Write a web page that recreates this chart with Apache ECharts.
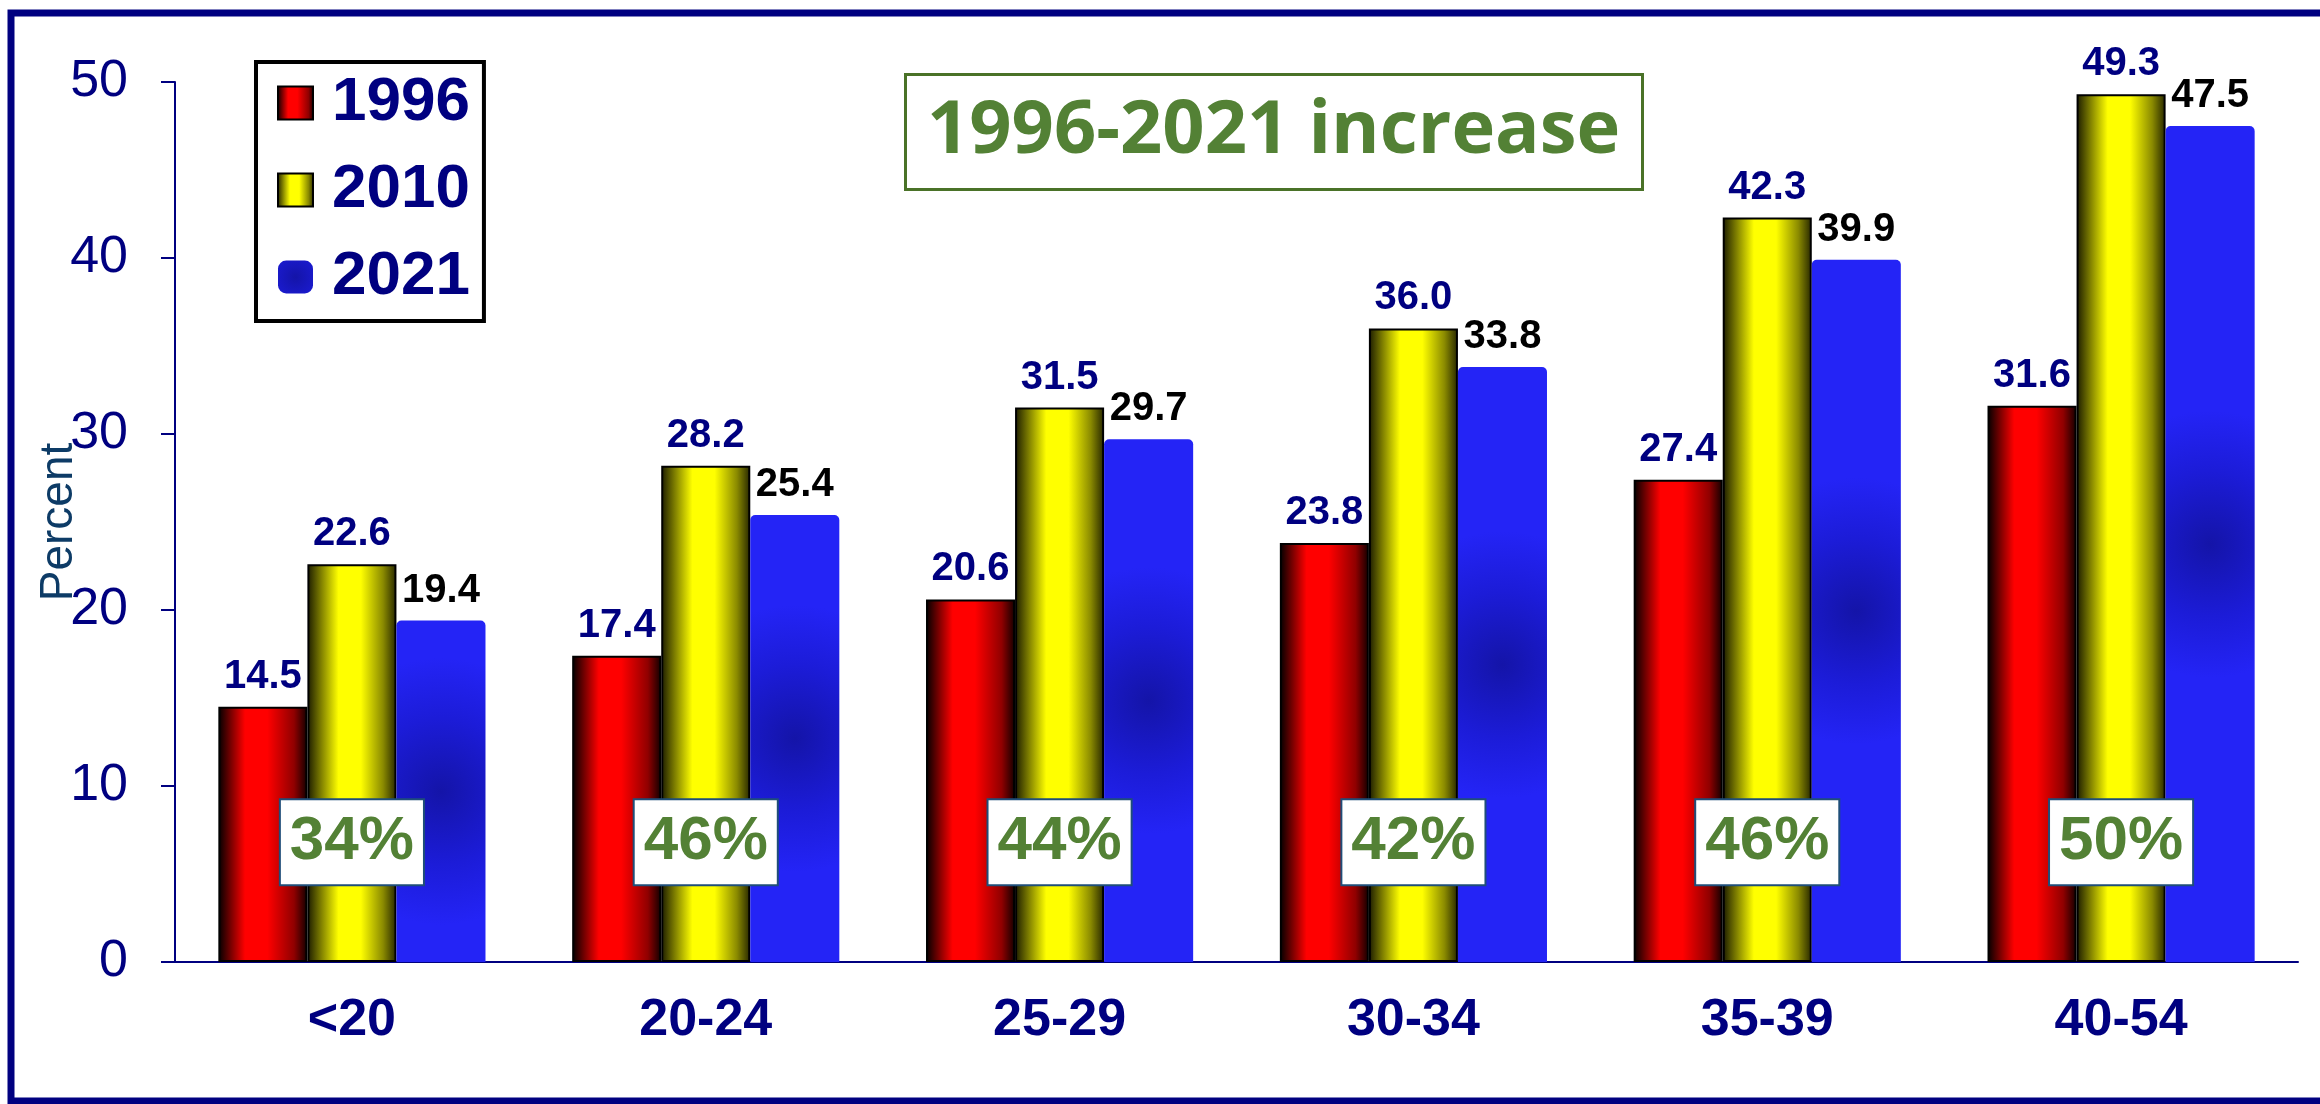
<!DOCTYPE html>
<html>
<head>
<meta charset="utf-8">
<script src="https://cdn.jsdelivr.net/npm/echarts@6/dist/echarts.min.js"></script>
<style>
  html, body { margin: 0; padding: 0; background: #fff; }
  #main { width: 2320px; height: 1104px; }
</style>
</head>
<body>
<div id="main"></div>
<script>
var categories = ['<20', '20-24', '25-29', '30-34', '35-39', '40-54'];
var values1996 = [14.5, 17.4, 20.6, 23.8, 27.4, 31.6];
var values2010 = [22.6, 28.2, 31.5, 36.0, 42.3, 49.3];
var values2021 = [19.4, 25.4, 29.7, 33.8, 39.9, 47.5];
var increaseLabels = ['34%', '46%', '44%', '42%', '46%', '50%'];
var yMin = 0, yMax = 50, yStep = 10;

var NAVY = '#000080';
var FONT = 'Liberation Sans, Arial, sans-serif';
var BOX_Y = 6.8; // height (in axis units) where the increase boxes sit

var chartDom = document.getElementById('main');
var myChart = echarts.init(chartDom);

var redFill = new echarts.graphic.LinearGradient(0, 0, 1, 0, [
  { offset: 0, color: '#000000' },
  { offset: 0.3, color: '#ff0000' },
  { offset: 0.55, color: '#ff0000' },
  { offset: 0.85, color: '#900000' },
  { offset: 1, color: '#100000' }
]);
var yellowFill = new echarts.graphic.LinearGradient(0, 0, 1, 0, [
  { offset: 0, color: '#1a1a00' },
  { offset: 0.35, color: '#ffff00' },
  { offset: 0.6, color: '#ffff00' },
  { offset: 0.85, color: '#8a8a00' },
  { offset: 1, color: '#262600' }
]);
var blueFill = new echarts.graphic.RadialGradient(0.5, 0.5, 1.5, [
  { offset: 0, color: '#1414a8' },
  { offset: 0.55, color: '#1c1cd8' },
  { offset: 1, color: '#2424f6' }
]);

function barLabel(color) {
  return {
    show: true,
    position: 'top',
    distance: 10,
    color: color,
    fontFamily: FONT,
    fontWeight: 'bold',
    fontSize: 40,
    formatter: function (p) { return p.value.toFixed(1); }
  };
}

var option = {
  animation: false,
  backgroundColor: '#fff',
  title: {
    text: '1996-2021 increase',
    left: 905,
    top: 74,
    padding: [18, 22, 18, 22],
    borderColor: '#4a7228',
    borderWidth: 3,
    textStyle: {
      color: '#538135',
      fontFamily: 'Open Sans, sans-serif',
      fontWeight: 'bold',
      fontSize: 74,
      lineHeight: 80
    }
  },
  legend: {
    orient: 'vertical',
    left: 256,
    top: 62,
    padding: [10, 14, 13, 21],
    borderColor: '#000',
    borderWidth: 4,
    itemWidth: 35,
    itemHeight: 33,
    itemGap: 25,
    selectedMode: false,
    data: [
      { name: '1996', icon: 'rect' },
      { name: '2010', icon: 'rect' },
      { name: '2021', icon: 'roundRect' }
    ],
    textStyle: {
      color: NAVY,
      fontFamily: FONT,
      fontWeight: 'bold',
      fontSize: 62,
      lineHeight: 62,
      padding: [0, 0, 0, 14]
    }
  },
  grid: {
    left: 175,
    right: 22,
    top: 82,
    bottom: 142
  },
  xAxis: {
    type: 'category',
    data: categories,
    axisLine: { lineStyle: { color: NAVY, width: 2 } },
    axisTick: { length: 17, lineStyle: { color: NAVY, width: 2 } },
    axisLabel: {
      margin: 33,
      color: NAVY,
      fontFamily: FONT,
      fontWeight: 'bold',
      fontSize: 52
    }
  },
  yAxis: {
    type: 'value',
    min: yMin,
    max: yMax,
    interval: yStep,
    name: 'Percent',
    nameLocation: 'middle',
    nameGap: 93,
    nameMoveOverlap: false,
    nameTextStyle: {
      color: '#0d3b66',
      fontFamily: FONT,
      fontSize: 46
    },
    splitLine: { show: false },
    axisLine: { show: true, lineStyle: { color: NAVY, width: 2 } },
    axisTick: { show: true, length: 14, lineStyle: { color: NAVY, width: 2 } },
    axisLabel: {
      margin: 47,
      color: NAVY,
      fontFamily: FONT,
      fontSize: 52
    }
  },
  graphic: [
    {
      type: 'rect',
      silent: true,
      z: 100,
      shape: { x: 11, y: 13, width: 2400, height: 1088 },
      style: { fill: 'none', stroke: NAVY, lineWidth: 7 }
    }
  ],
  series: [
    {
      name: '1996',
      type: 'bar',
      data: values1996,
      barGap: '0%',
      barCategoryGap: '24.5%',
      itemStyle: { color: redFill, borderColor: '#000', borderWidth: 2 },
      label: barLabel(NAVY)
    },
    {
      name: '2010',
      type: 'bar',
      data: values2010,
      barGap: '0%',
      barCategoryGap: '24.5%',
      itemStyle: { color: yellowFill, borderColor: '#000', borderWidth: 2 },
      label: barLabel(NAVY)
    },
    {
      name: '2021',
      type: 'bar',
      data: values2021,
      barGap: '0%',
      barCategoryGap: '24.5%',
      itemStyle: { color: blueFill, borderRadius: [5, 5, 0, 0] },
      label: barLabel('#000')
    },
    {
      name: 'increase',
      type: 'scatter',
      silent: true,
      z: 10,
      symbol: 'rect',
      symbolSize: 1,
      itemStyle: { color: 'rgba(0,0,0,0)', opacity: 1 },
      data: categories.map(function (c) { return [c, BOX_Y]; }),
      label: {
        show: true,
        position: 'inside',
        opacity: 1,
        formatter: function (p) { return increaseLabels[p.dataIndex]; },
        backgroundColor: '#fff',
        borderColor: '#1f4e79',
        borderWidth: 2,
        padding: [13, 9, 9, 9],
        color: '#538135',
        fontFamily: FONT,
        fontWeight: 'bold',
        fontSize: 62,
        lineHeight: 62
      }
    }
  ]
};

option && myChart.setOption(option);
</script>
</body>
</html>
